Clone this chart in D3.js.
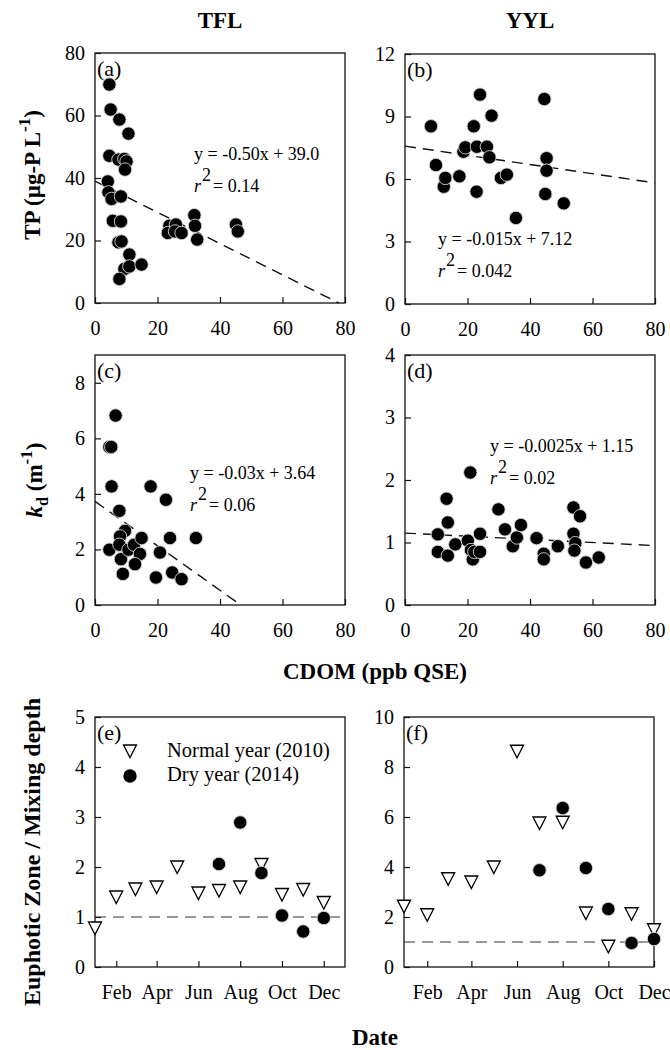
<!DOCTYPE html>
<html><head><meta charset="utf-8">
<script src="https://cdn.jsdelivr.net/npm/d3@7"></script>
<style>
body{margin:0;background:#fff}
svg{display:block}
text{font-family:"Liberation Serif","Times New Roman",serif;fill:#000}
</style>
</head><body>
<svg id="chart" width="670" height="1050"></svg>
<script>
// ---------- DATA ----------
// (a) TFL: CDOM vs TP
const aCDOM = [4.6,5.0,7.8,10.7,4.6,7.5,9.4,10.1,9.6,4.1,4.3,5.3,8.3,5.7,8.3,7.5,8.5,11.0,9.4,11.0,14.9,7.8,23.8,23.3,25.9,25.6,27.7,31.8,32.0,32.7,45.1,45.7];
const aTP   = [69.9,61.9,58.7,54.2,47.1,45.9,46.1,45.3,42.7,38.9,35.4,33.3,34.1,26.3,26.1,19.4,19.7,15.5,10.9,11.7,12.3,7.7,24.7,22.4,25.1,22.9,22.4,28.1,24.7,20.3,25.1,22.9];
// (b) YYL: CDOM vs TP
const bCDOM = [8.3,9.9,12.4,12.9,17.4,18.7,19.3,22.0,24.0,23.0,22.9,26.2,27.0,27.7,30.7,32.6,35.5,44.6,45.3,45.3,44.9,50.8];
const bTP   = [8.53,6.67,5.63,6.05,6.13,7.31,7.52,8.53,10.05,7.55,5.39,7.55,7.04,9.04,6.05,6.21,4.13,9.84,7.0,6.4,5.28,4.83];
// (c) TFL: CDOM vs kd
const cCDOM = [6.6,4.6,5.2,5.3,7.8,4.6,9.6,8.0,7.8,8.3,10.7,12.5,14.9,14.4,12.8,8.9,17.8,20.8,19.5,22.7,24.0,24.7,27.7,32.3];
const cKd   = [6.82,5.69,5.69,4.27,3.39,1.99,2.67,2.47,2.17,1.65,1.99,2.17,2.41,1.84,1.47,1.12,4.27,1.89,0.99,3.79,2.41,1.17,0.93,2.41];
// (d) YYL: CDOM vs kd
const dCDOM = [10.5,10.5,13.3,13.7,13.7,16.1,20.9,20.1,21.1,21.7,22.2,24.0,24.0,29.9,32.0,34.5,35.8,37.1,42.1,44.4,44.4,48.9,53.9,56.0,53.9,54.5,54.2,57.9,62.0];
const dKd   = [1.13,0.85,1.70,1.32,0.79,0.97,2.12,1.03,0.88,0.73,0.85,0.85,1.14,1.53,1.21,0.94,1.08,1.28,1.07,0.82,0.73,0.94,1.56,1.42,1.14,0.99,0.87,0.68,0.76];
// regression lines as drawn: [intercept, slope]
const aFit = [39.0, -0.50];
const bFit = [7.58, -0.0221];
const cFit = [3.73, -0.080];
const dFit = [1.15, -0.0025];
const aEq = ["y = -0.50x + 39.0", "0.14"];
const bEq = ["y = -0.015x + 7.12", "0.042"];
const cEq = ["y = -0.03x + 3.64", "0.06"];
const dEq = ["y = -0.0025x + 1.15", "0.02"];
// (e),(f) Euphotic zone / mixing depth
const normalDates = ["2010-01-01","2010-02-01","2010-03-01","2010-04-01","2010-05-01","2010-06-01","2010-07-01","2010-08-01","2010-09-01","2010-10-01","2010-11-01","2010-12-01"];
const dryDates    = ["2010-07-01","2010-08-01","2010-09-01","2010-10-01","2010-11-01","2010-12-01"];
const eNormal = [0.78,1.40,1.56,1.60,2.00,1.48,1.53,1.60,2.05,1.45,1.55,1.29];
const eDry    = [2.06,2.89,1.88,1.03,0.71,0.98];
const fNormal = [2.43,2.09,3.53,3.40,4.00,8.63,5.76,5.79,2.16,0.83,2.13,1.49];
const fDry    = [3.87,6.36,3.96,2.32,0.96,1.12];
const monthTicks = ["2010-02-01","2010-04-01","2010-06-01","2010-08-01","2010-10-01","2010-12-01"];
const cdomTicks = [0,20,40,60,80];
const aTicks = [0,20,40,60,80];
const bTicks = [0,3,6,9,12];
const cTicks = [0,2,4,6,8];
const dTicks = [0,1,2,3,4];
const eTicks = [0,1,2,3,4,5];
const fTicks = [0,2,4,6,8,10];
const columnTitles = ["TFL","YYL"];
const legendLabels = ["Normal year (2010)","Dry year (2014)"];

// ---------- DRAW ----------
const svg = d3.select("#chart");
const parse = d3.timeParse("%Y-%m-%d");
const TICK_FONT = 20;
const SERIF = "Liberation Serif, Times New Roman, serif";

function frame(g, w, h){
  g.append("rect").attr("x",0).attr("y",0).attr("width",w).attr("height",h)
   .attr("fill","none").attr("stroke","#111").attr("stroke-width",1.3);
}
function styleAxis(sel){
  sel.attr("font-family",SERIF).attr("font-size",TICK_FONT);
  sel.select(".domain").remove();
  sel.selectAll("line").attr("stroke","#111").attr("stroke-width",1.2);
  sel.selectAll("text").attr("font-size",TICK_FONT).attr("font-family",SERIF).attr("fill","#000");
}

function scatterPanel(opt){
  const w = 250, h = 250;
  const g = svg.append("g").attr("transform",`translate(${opt.x},${opt.y})`);
  const x = d3.scaleLinear().domain([0,80]).range([0,w]);
  const y = d3.scaleLinear().domain([0,opt.ymax]).range([h,0]);
  frame(g,w,h);
  g.append("g").attr("transform",`translate(0,${h})`)
    .call(d3.axisBottom(x).tickValues(cdomTicks).tickSize(-6).tickPadding(18).tickFormat(d3.format("d")))
    .call(styleAxis);
  g.append("g")
    .call(d3.axisLeft(y).tickValues(opt.ticks).tickSize(-6).tickPadding(10).tickFormat(d3.format("d")))
    .call(styleAxis);
  // fit line
  const [b0,b1] = opt.fit;
  let xEnd = 80;
  if (b0 + b1*80 < 0) xEnd = -b0/b1;
  g.append("line").attr("x1",x(0)).attr("y1",y(b0)).attr("x2",x(xEnd)).attr("y2",y(b0+b1*xEnd))
    .attr("stroke","#111").attr("stroke-width",1.4).attr("stroke-dasharray","11,7");
  // points
  const pts = opt.xs.map((v,i)=>[v,opt.ys[i]]);
  g.selectAll("circle.pt").data(pts).join("circle").attr("class","pt")
    .attr("cx",d=>x(d[0])).attr("cy",d=>y(d[1])).attr("r",6.7)
    .attr("fill","#000").attr("stroke","#d8d8d8").attr("stroke-width",0.9);
  // panel label
  g.append("text").attr("x",2).attr("y",23).attr("font-size",22).text(opt.label);
  // equation
  const eq = g.append("text").attr("x",opt.eqx).attr("y",opt.eqy).attr("font-size",18);
  eq.text(opt.eq[0]);
  const r2 = g.append("text").attr("x",opt.eqx).attr("y",opt.eqy+32).attr("font-size",18);
  r2.append("tspan").attr("font-style","italic").text("r");
  r2.append("tspan").attr("dy",-11).attr("dx",1).text("2");
  r2.append("tspan").attr("dy",11).attr("dx",2).text("= " + opt.eq[1]);
  return g;
}

scatterPanel({x:95,y:53,ymax:80,ticks:aTicks,xs:aCDOM,ys:aTP,fit:aFit,eq:aEq,label:"(a)",eqx:99,eqy:107});
scatterPanel({x:405,y:54,ymax:12,ticks:bTicks,xs:bCDOM,ys:bTP,fit:bFit,eq:bEq,label:"(b)",eqx:33,eqy:191});
scatterPanel({x:95,y:355,ymax:9,ticks:cTicks,xs:cCDOM,ys:cKd,fit:cFit,eq:cEq,label:"(c)",eqx:95,eqy:124});
scatterPanel({x:405,y:355,ymax:4,ticks:dTicks,xs:dCDOM,ys:dKd,fit:dFit,eq:dEq,label:"(d)",eqx:85,eqy:97});

function triPath(cx,cy){
  return `M${cx-6.5},${cy-6}L${cx+6.5},${cy-6}L${cx},${cy+6.5}Z`;
}

function timePanel(opt){
  const w = 250, h = 250;
  const g = svg.append("g").attr("transform",`translate(${opt.x},${opt.y})`);
  const x = d3.scaleTime().domain(opt.domain.map(parse)).range([0,w]);
  const y = d3.scaleLinear().domain([0,opt.ymax]).range([h,0]);
  frame(g,w,h);
  g.append("g").attr("transform",`translate(0,${h})`)
    .call(d3.axisBottom(x).tickValues(monthTicks.map(parse)).tickSize(-6).tickPadding(18).tickFormat(d3.timeFormat("%b")))
    .call(styleAxis);
  g.append("g")
    .call(d3.axisLeft(y).tickValues(opt.ticks).tickSize(-6).tickPadding(10).tickFormat(d3.format("d")))
    .call(styleAxis);
  g.append("line").attr("x1",0).attr("x2",w).attr("y1",y(1)).attr("y2",y(1))
    .attr("stroke","#333").attr("stroke-width",1.2).attr("stroke-dasharray","11,7");
  const norm = normalDates.map((d,i)=>[parse(d),opt.normal[i]]);
  const dry = dryDates.map((d,i)=>[parse(d),opt.dry[i]]);
  g.selectAll("path.tri").data(norm).join("path").attr("class","tri")
    .attr("d",d=>triPath(x(d[0]),y(d[1])))
    .attr("fill","#fff").attr("stroke","#000").attr("stroke-width",1.3);
  g.selectAll("circle.dry").data(dry).join("circle").attr("class","dry")
    .attr("cx",d=>x(d[0])).attr("cy",d=>y(d[1])).attr("r",6.7)
    .attr("fill","#000").attr("stroke","#d8d8d8").attr("stroke-width",0.9);
  g.append("text").attr("x",2).attr("y",23).attr("font-size",22).text(opt.label);
  return g;
}

const gE = timePanel({x:95,y:717,ymax:5,ticks:eTicks,domain:["2010-01-01","2011-01-01"],normal:eNormal,dry:eDry,label:"(e)"});
timePanel({x:404,y:717,ymax:10,ticks:fTicks,domain:["2010-01-01","2010-12-01"],normal:fNormal,dry:fDry,label:"(f)"});

// legend in (e)
gE.append("path").attr("d",triPath(35,34)).attr("fill","#fff").attr("stroke","#000").attr("stroke-width",1.3);
gE.append("circle").attr("cx",35).attr("cy",59).attr("r",6.7).attr("fill","#000");
gE.append("text").attr("x",72).attr("y",40).attr("font-size",20.5).text(legendLabels[0]);
gE.append("text").attr("x",72).attr("y",64).attr("font-size",20.5).text(legendLabels[1]);

// column titles
svg.append("text").attr("x",220).attr("y",28).attr("text-anchor","middle").attr("font-size",23).attr("font-weight","bold").text(columnTitles[0]);
svg.append("text").attr("x",530).attr("y",28).attr("text-anchor","middle").attr("font-size",23).attr("font-weight","bold").text(columnTitles[1]);

// axis titles
svg.append("text").attr("x",375).attr("y",679).attr("text-anchor","middle").attr("font-size",23).attr("font-weight","bold").text("CDOM (ppb QSE)");
svg.append("text").attr("x",375).attr("y",1045).attr("text-anchor","middle").attr("font-size",23).attr("font-weight","bold").text("Date");

const tp = svg.append("text").attr("transform","translate(40,175) rotate(-90)").attr("text-anchor","middle").attr("font-size",23).attr("font-weight","bold");
tp.append("tspan").text("TP (\u00b5g-P L");
tp.append("tspan").attr("dy",-10).attr("font-size",17).text("-1");
tp.append("tspan").attr("dy",10).text(")");

const kd = svg.append("text").attr("transform","translate(42,480) rotate(-90)").attr("text-anchor","middle").attr("font-size",23).attr("font-weight","bold");
kd.append("tspan").attr("font-style","italic").text("k");
kd.append("tspan").attr("dy",6).attr("font-size",16).text("d");
kd.append("tspan").attr("dy",-6).text(" (m");
kd.append("tspan").attr("dy",-10).attr("font-size",17).text("-1");
kd.append("tspan").attr("dy",10).text(")");

svg.append("text").attr("transform","translate(40,852) rotate(-90)").attr("text-anchor","middle").attr("font-size",24).attr("font-weight","bold").text("Euphotic Zone / Mixing depth");
</script>
</body></html>
